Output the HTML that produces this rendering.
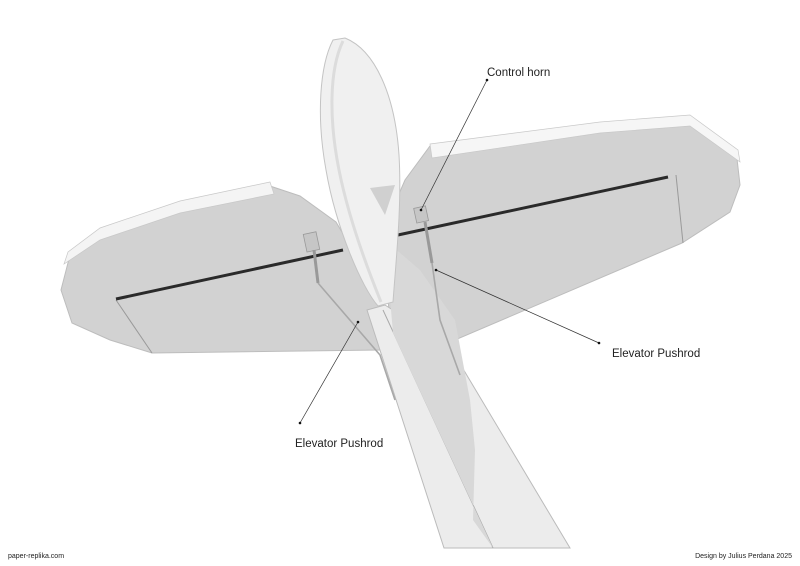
<!DOCTYPE html>
<html><head><style>
html,body{margin:0;padding:0;background:#fff;}
svg{display:block;}
text{font-family:"Liberation Sans",sans-serif;fill:#222;}
</style></head><body>
<svg width="800" height="566" viewBox="0 0 800 566" xmlns="http://www.w3.org/2000/svg">
<!-- left stabilizer -->
<path d="M270,186 L300,196 L336,222 L382,300 L380,350 L152,353 L110,340 L72,323 L61,290 L70,255 L100,232 L180,205 Z" fill="#d2d2d2" stroke="#bdbdbd"/>
<path d="M270,182 L180,201 L100,228 L68,252 L64,264 L100,240 L180,213 L274,194 Z" fill="#f4f4f4" stroke="#c8c8c8" stroke-width="0.7"/>
<path d="M116,300 L152,353" stroke="#999" stroke-width="1" fill="none"/>
<!-- right stabilizer -->
<path d="M430,146 L600,126 L690,119 L736,150 L740,185 L730,212 L682,243 L448,343 L390,320 L382,240 L389,217 L405,180 Z" fill="#d2d2d2" stroke="#bdbdbd"/>
<path d="M430,144 L600,122 L690,115 L738,150 L740,162 L690,126 L600,133 L432,158 Z" fill="#f6f6f6" stroke="#c8c8c8" stroke-width="0.7"/>
<path d="M676,175 L683,243" stroke="#999" stroke-width="1" fill="none"/>
<!-- hinge line -->
<path d="M116,299 L343,250" stroke="#2a2a2a" stroke-width="3"/>
<path d="M384,238 L668,177" stroke="#2a2a2a" stroke-width="3"/>
<!-- fuselage -->
<path d="M367,310 L385,305 L450,347 L570,548 L444,548 Z" fill="#ececec" stroke="#bbb"/>
<path d="M383,310 L493,548" stroke="#aaa" stroke-width="1"/>
<path d="M385,240 L420,270 L455,320 L470,400 L475,450 L473,520 L493,548 L393,333 Z" fill="#d8d8d8"/>
<!-- fin -->
<path d="M333,40 C320,65 316,115 326,170 C336,228 362,288 378,306 L393,302 C396,260 402,205 399,155 C395,95 375,50 345,38 Z" fill="#f0f0f0" stroke="#c4c4c4"/>
<path d="M343,41 C329,70 329,120 339,170 C349,220 368,270 381,302" stroke="#dcdcdc" fill="none" stroke-width="3"/>
<path d="M370,188 L395,185 L385,215 Z" fill="#d0d0d0"/>
<!-- horns & rods -->
<rect x="305" y="233" width="13" height="18" fill="#c6c6c6" stroke="#999" stroke-width="0.8" transform="rotate(-12 311 242)"/>
<path d="M314,250 L318,283" stroke="#999" stroke-width="3"/>
<path d="M318,283 L380,355 L395,400" stroke="#a8a8a8" stroke-width="1.6" fill="none"/>
<rect x="415" y="207" width="12" height="15" fill="#c6c6c6" stroke="#999" stroke-width="0.8" transform="rotate(-12 421 214)"/>
<path d="M425,222 L432,263" stroke="#999" stroke-width="3"/>
<path d="M432,263 L440,320 L460,375" stroke="#a8a8a8" stroke-width="1.6" fill="none"/>
<!-- leaders -->
<line x1="487" y1="80" x2="421" y2="210" stroke="#333" stroke-width="0.7"/>
<circle cx="487" cy="80" r="1.3" fill="#111"/>
<circle cx="421" cy="210" r="1.3" fill="#111"/>
<line x1="599" y1="343" x2="436" y2="270" stroke="#333" stroke-width="0.7"/>
<circle cx="599" cy="343" r="1.3" fill="#111"/>
<circle cx="436" cy="270" r="1.3" fill="#111"/>
<line x1="300" y1="423" x2="358" y2="322" stroke="#333" stroke-width="0.7"/>
<circle cx="300" cy="423" r="1.3" fill="#111"/>
<circle cx="358" cy="322" r="1.3" fill="#111"/>
<text x="487" y="76" font-size="11.5">Control horn</text>
<text x="612" y="357" font-size="11.5">Elevator Pushrod</text>
<text x="295" y="447" font-size="11.5">Elevator Pushrod</text>
<text x="8" y="558" font-size="7">paper-replika.com</text>
<text x="792" y="558" font-size="7" text-anchor="end">Design by Julius Perdana 2025</text>
</svg>
</body></html>
